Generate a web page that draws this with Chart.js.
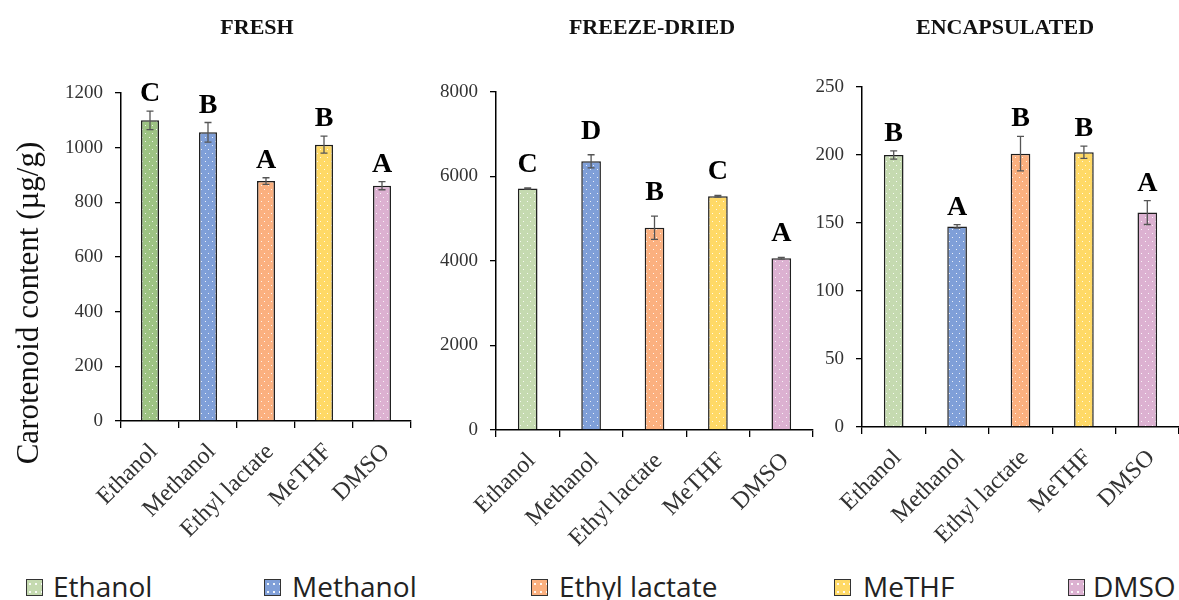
<!DOCTYPE html>
<html>
<head>
<meta charset="utf-8">
<script src="https://cdn.jsdelivr.net/npm/chart.js@4/dist/chart.umd.min.js"></script>
<style>
  html, body { margin: 0; padding: 0; background: #fff; }
  body { width: 1179px; height: 600px; position: relative; overflow: hidden; }
  canvas.panel { position: absolute; top: 0; }
  .ttl { position: absolute; top: 27px; transform: translate(-50%, -50%);
         font: bold 22px "Liberation Serif", serif; color: #111; white-space: nowrap; line-height: 1; }
  #ytitle { position: absolute; left: 27px; top: 303px; transform: translate(-50%, -50%) rotate(-90deg);
            font: 31px "Liberation Serif", serif; color: #111; white-space: nowrap; line-height: 1; }
  .leg { position: absolute; top: 572px; font: 28px "Open Sans", sans-serif; line-height: 28px; color: #222; white-space: nowrap; }
  .box { position: absolute; top: 579px; width: 15px; height: 15px; border: 1.5px solid #333;
         background-image: radial-gradient(circle, rgba(255,255,255,0.9) 0.8px, transparent 1.3px);
         background-size: 6px 8px; }
</style>
</head>
<body>
<canvas id="fresh" class="panel" width="420" height="560" style="left:0px"></canvas>
<canvas id="freezeDried" class="panel" width="400" height="560" style="left:420px"></canvas>
<canvas id="encapsulated" class="panel" width="379" height="560" style="left:800px"></canvas>

<div class="ttl" style="left:257px">FRESH</div>
<div class="ttl" style="left:652px">FREEZE-DRIED</div>
<div class="ttl" style="left:1005px">ENCAPSULATED</div>
<div id="ytitle">Carotenoid content (µg/g)</div>

<div id="legend"></div>

<script>
// Solvents (categories)
const solvents = ['Ethanol', 'Methanol', 'Ethyl lactate', 'MeTHF', 'DMSO'];

// Fresh material, µg/g
const freshValues  = [1100, 1056, 878, 1011, 861];
const freshErrors  = [34, 36, 12, 31, 15];
const freshLetters = ['C', 'B', 'A', 'B', 'A'];

// Freeze-dried material, µg/g
const freezeDriedValues  = [5715, 6360, 4785, 5535, 4065];
const freezeDriedErrors  = [15, 155, 275, 20, 20];
const freezeDriedLetters = ['C', 'D', 'B', 'C', 'A'];

// Encapsulated material, µg/g
const encapsulatedValues  = [200, 147.5, 201, 202, 157.7];
const encapsulatedErrors  = [3, 1.3, 12.7, 4.5, 8.8];
const encapsulatedLetters = ['B', 'A', 'B', 'B', 'A'];

// Axis ranges
const freshAxis        = { max: 1200, step: 200 };
const freezeDriedAxis  = { max: 8000, step: 2000 };
const encapsulatedAxis = { max: 250,  step: 50 };

// Fill colours
const solventColors = ['#c5dab0', '#7f9fd8', '#fbb07f', '#ffd966', '#dcb1d1'];
const freshColors   = ['#9dc383', '#7f9fd8', '#fbb07f', '#ffd966', '#dcb1d1'];

// Dotted fill pattern for the bars
function dotted(color) {
  const c = document.createElement('canvas');
  c.width = 7; c.height = 8;
  const g = c.getContext('2d');
  g.fillStyle = color; g.fillRect(0, 0, 7, 8);
  g.fillStyle = 'rgba(255,255,255,0.85)';
  g.fillRect(2, 1, 1, 1);
  g.fillRect(5, 5, 1, 1);
  return g.createPattern(c, 'repeat');
}

// Error bars and significance letters above each bar
const annotate = {
  id: 'annotate',
  afterDatasetsDraw(chart, args, opts) {
    const ctx = chart.ctx;
    const y = chart.scales.y;
    const meta = chart.getDatasetMeta(0);
    ctx.save();
    meta.data.forEach((bar, i) => {
      const v = opts.values[i], e = opts.errors[i];
      const top = y.getPixelForValue(v + e);
      const bot = y.getPixelForValue(v - e);
      ctx.strokeStyle = '#555';
      ctx.lineWidth = 1.3;
      ctx.beginPath();
      ctx.moveTo(bar.x, top); ctx.lineTo(bar.x, bot);
      ctx.moveTo(bar.x - 3.5, top); ctx.lineTo(bar.x + 3.5, top);
      ctx.moveTo(bar.x - 3.5, bot); ctx.lineTo(bar.x + 3.5, bot);
      ctx.stroke();
      ctx.font = 'bold 28px "Liberation Serif"';
      ctx.textAlign = 'center';
      ctx.textBaseline = 'alphabetic';
      ctx.fillStyle = '#000';
      ctx.fillText(opts.letters[i], bar.x, top - opts.gap);
    });
    ctx.restore();
  }
};

function makePanel(id, values, errors, letters, colors, axis, box, gap) {
  new Chart(document.getElementById(id), {
    type: 'bar',
    data: {
      labels: solvents,
      datasets: [{
        data: values,
        backgroundColor: colors.map(dotted),
        borderColor: '#1f1f1f',
        borderWidth: 1.5,
        barPercentage: 0.31,
        categoryPercentage: 1
      }]
    },
    options: {
      responsive: false,
      animation: false,
      devicePixelRatio: 1,
      layout: { padding: { top: box.top, right: box.right, left: 0, bottom: 0 } },
      plugins: {
        legend: { display: false },
        tooltip: { enabled: false },
        annotate: { values, errors, letters, gap }
      },
      scales: {
        x: {
          grid: { display: true, drawOnChartArea: false, offset: true, tickLength: 7, color: '#000', lineWidth: 1.3 },
          border: { display: true, color: '#000', width: 1.5 },
          ticks: { minRotation: 45, maxRotation: 45, color: '#333', padding: 10, labelOffset: 4,
                   font: { family: 'Liberation Serif', size: 24 } },
          afterFit(s) { s.height = box.xh; }
        },
        y: {
          min: 0, max: axis.max,
          grid: { display: true, drawOnChartArea: false, tickLength: 6, color: '#000', lineWidth: 1.3 },
          border: { display: true, color: '#000', width: 1.5 },
          ticks: { stepSize: axis.step, color: '#333', padding: 12,
                   font: { family: 'Liberation Serif', size: 19 },
                   callback: (v) => String(v) },
          afterFit(s) { s.width = box.yw; }
        }
      }
    },
    plugins: [annotate]
  });
}

makePanel('fresh', freshValues, freshErrors, freshLetters, freshColors, freshAxis,
          { top: 93, right: 9, xh: 139, yw: 121 }, 10);
makePanel('freezeDried', freezeDriedValues, freezeDriedErrors, freezeDriedLetters, solventColors, freezeDriedAxis,
          { top: 92, right: 7, xh: 130, yw: 76 }, 16);
makePanel('encapsulated', encapsulatedValues, encapsulatedErrors, encapsulatedLetters, solventColors, encapsulatedAxis,
          { top: 87, right: 0, xh: 133, yw: 62 }, 10);

// Shared legend along the bottom
const legendBoxX  = [26, 264, 531, 834, 1068];
const legendTextX = [53, 292, 559, 863, 1093];
const legend = document.getElementById('legend');
solvents.forEach((name, i) => {
  const b = document.createElement('div');
  b.className = 'box';
  b.style.left = legendBoxX[i] + 'px';
  b.style.backgroundColor = solventColors[i];
  legend.appendChild(b);
  const t = document.createElement('div');
  t.className = 'leg';
  t.style.left = legendTextX[i] + 'px';
  t.textContent = name;
  legend.appendChild(t);
});
</script>
</body>
</html>
